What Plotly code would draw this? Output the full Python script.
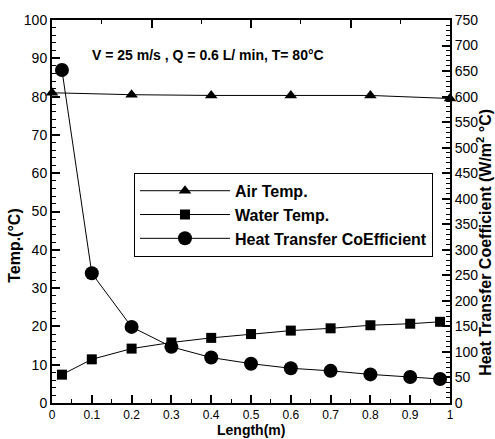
import plotly.graph_objects as go

# Data
air_x = [0.0, 0.2, 0.4, 0.6, 0.8, 1.0]
air_temp = [81.0, 80.5, 80.3, 80.3, 80.3, 79.5]

pos_x = [0.025, 0.1, 0.2, 0.3, 0.4, 0.5, 0.6, 0.7, 0.8, 0.9, 0.975]
water_temp = [7.4, 11.4, 14.2, 15.8, 17.0, 18.0, 18.9, 19.5, 20.3, 20.7, 21.2]
htc = [652, 254, 149, 110, 89, 77, 68, 63, 56, 51, 47]

FONT = "Liberation Sans, Arial, sans-serif"

fig = go.Figure()
fig.add_trace(go.Scatter(x=air_x, y=air_temp, name="Air Temp.", mode="lines+markers",
                         line=dict(color="black", width=1),
                         marker=dict(symbol="triangle-up", size=11, color="black"),
                         cliponaxis=False))
fig.add_trace(go.Scatter(x=pos_x, y=water_temp, name="Water Temp.", mode="lines+markers",
                         line=dict(color="black", width=1),
                         marker=dict(symbol="square", size=10, color="black"),
                         cliponaxis=False))
fig.add_trace(go.Scatter(x=pos_x, y=htc, name="Heat Transfer CoEfficient", mode="lines+markers",
                         yaxis="y2",
                         line=dict(color="black", width=1),
                         marker=dict(symbol="circle", size=14, color="black"),
                         cliponaxis=False))
# helper trace so the top tick axis renders
fig.add_trace(go.Scatter(x=[0, 1], y=[0, 0], xaxis="x2", mode="markers",
                         marker=dict(opacity=0), showlegend=False, hoverinfo="skip"))

fig.update_layout(
    width=495, height=439,
    margin=dict(l=52, r=45, t=18, b=36),
    paper_bgcolor="white", plot_bgcolor="white",
    font=dict(family=FONT, size=14, color="black"),
    showlegend=True,
    legend=dict(x=0.206, y=0.601, xanchor="left", yanchor="top",
                bordercolor="black", borderwidth=1, bgcolor="white",
                font=dict(family=FONT, size=16, color="black", weight="bold"),
                itemwidth=90, tracegroupgap=0),
    xaxis=dict(range=[0, 1], dtick=0.1, tick0=0, ticks="inside", ticklen=8, tickwidth=2,
               tickcolor="black", showline=True, linewidth=2, linecolor="black",
               mirror=True, showgrid=False, zeroline=False,
               tickformat="~g", ticklabelstandoff=0, tickfont=dict(size=12),
               minor=dict(dtick=0.05, ticks="inside", ticklen=4, tickwidth=1, tickcolor="black")),
    xaxis2=dict(range=[0, 1], overlaying="x", side="top", dtick=0.25, tick0=0,
                ticks="inside", ticklen=8, tickwidth=2, tickcolor="black",
                showticklabels=False, showline=False, showgrid=False, zeroline=False,
                minor=dict(dtick=0.125, ticks="inside", ticklen=4, tickwidth=1, tickcolor="black")),
    yaxis=dict(range=[0, 100], dtick=10, ticks="inside", ticklen=8, tickwidth=2,
               tickcolor="black", showline=True, linewidth=2, linecolor="black",
               showgrid=False, zeroline=False, tickfont=dict(size=14), ticklabelstandoff=0,
               minor=dict(dtick=2, ticks="inside", ticklen=4, tickwidth=1, tickcolor="black")),
    yaxis2=dict(range=[0, 750], dtick=50, overlaying="y", side="right", anchor="x",
                ticks="inside", ticklen=8, tickwidth=2, tickcolor="black",
                showline=True, linewidth=2, linecolor="black",
                showgrid=False, zeroline=False, tickfont=dict(size=14), ticklabelstandoff=0,
                minor=dict(dtick=10, ticks="inside", ticklen=4, tickwidth=1, tickcolor="black")),
    annotations=[
        dict(text="V = 25 m/s , Q = 0.6 L/ min, T= 80°C", xref="paper", yref="paper",
             x=(90 - 52) / 398, y=(403 - 53) / 385, xanchor="left", yanchor="middle",
             showarrow=False, font=dict(family=FONT, size=14, weight="bold")),
        dict(text="Length(m)", xref="paper", yref="paper",
             x=0.5, y=(403 - 439) / 385, xanchor="center", yanchor="bottom",
             showarrow=False, borderpad=0, font=dict(family=FONT, size=14, weight="bold")),
        dict(text="Temp.(°C)", xref="paper", yref="paper", textangle=-90,
             x=(15 - 52) / 398, y=(403 - 245) / 385, xanchor="center", yanchor="middle",
             showarrow=False, font=dict(family=FONT, size=16, weight="bold")),
        dict(text="Heat Transfer Coefficient (W/m<sup>2</sup> °C)", xref="paper", yref="paper",
             textangle=-90,
             x=(484 - 52) / 398, y=(403 - 242) / 385, xanchor="center", yanchor="middle",
             showarrow=False, font=dict(family=FONT, size=16, weight="bold")),
    ],
)

fig.write_html("out.html")
